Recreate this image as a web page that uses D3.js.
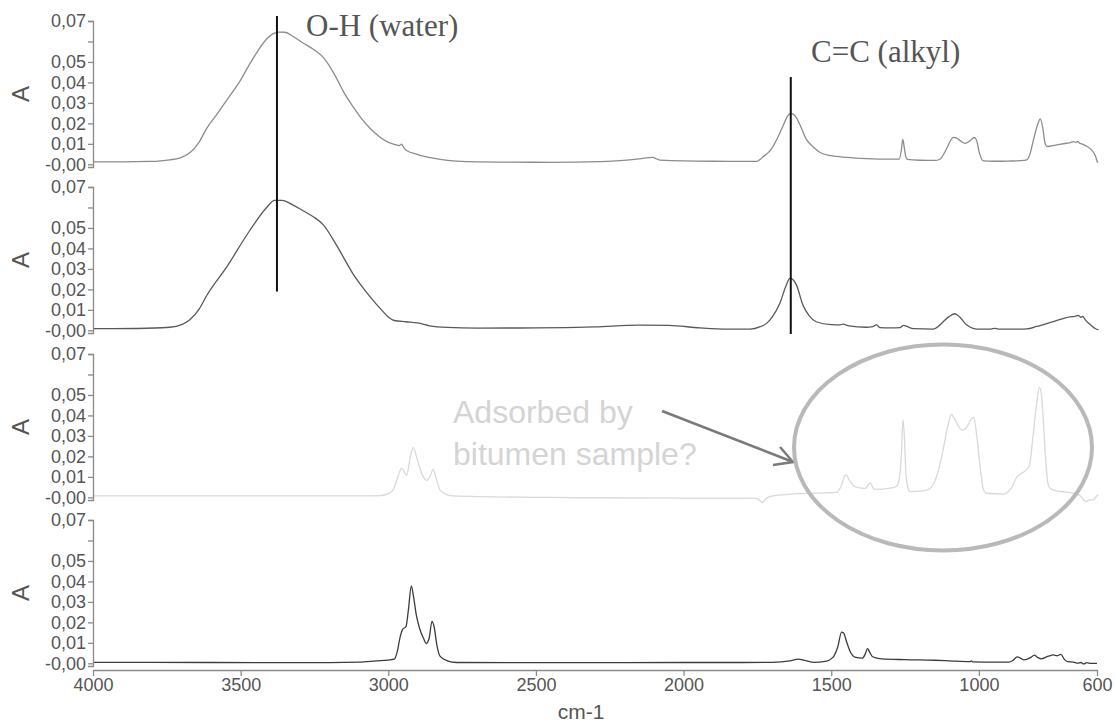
<!DOCTYPE html>
<html>
<head>
<meta charset="utf-8">
<script src="https://cdn.jsdelivr.net/npm/d3@7"></script>
<style>
  html, body { margin: 0; padding: 0; background: #ffffff; }
  svg { display: block; }
</style>
</head>
<body>
<svg id="chart" width="1117" height="722"></svg>
<script>
// ---------------- DATA ----------------
const xTickValues = [4000, 3500, 3000, 2500, 2000, 1500, 1000, 600];
const xTickLabels = ["4000", "3500", "3000", "2500", "2000", "1500", "1000", "600"];
const yTickValues = [0, 0.01, 0.02, 0.03, 0.04, 0.05, 0.06, 0.07];
const yTickLabels = ["-0,00", "0,01", "0,02", "0,03", "0,04", "0,05", "", "0,07"];
const xAxisTitle = "cm-1";
const yAxisTitle = "A";

// spectrum 1 (top, medium grey) [wavenumber, absorbance]
const spectrum1 = [[4000,0.0012],[3900,0.0012],[3807,0.0014],[3740,0.0022],[3705,0.0032],[3672,0.0056],[3640,0.011],[3615,0.0176],[3580,0.0245],[3547,0.0314],[3505,0.040],[3468,0.0493],[3440,0.0558],[3412,0.0612],[3390,0.0638],[3370,0.0646],[3350,0.0645],[3322,0.0624],[3290,0.0594],[3254,0.0562],[3220,0.0522],[3195,0.047],[3175,0.042],[3150,0.035],[3119,0.0281],[3090,0.0222],[3062,0.0176],[3030,0.0135],[3006,0.0112],[2980,0.0098],[2962,0.0092],[2955,0.0098],[2948,0.0082],[2938,0.0068],[2900,0.0048],[2848,0.003],[2800,0.0019],[2735,0.0013],[2600,0.0011],[2452,0.001],[2283,0.0013],[2150,0.0027],[2104,0.0034],[2090,0.0026],[2080,0.0021],[1900,0.0015],[1753,0.0014],[1740,0.0025],[1730,0.0038],[1710,0.0062],[1697,0.0088],[1680,0.0135],[1663,0.0188],[1648,0.0235],[1638,0.0249],[1628,0.0244],[1618,0.0228],[1605,0.019],[1584,0.0122],[1560,0.0083],[1538,0.0058],[1500,0.0042],[1448,0.0034],[1380,0.0028],[1300,0.0025],[1270,0.0025],[1262,0.0075],[1258,0.0122],[1254,0.0095],[1248,0.004],[1242,0.0024],[1200,0.002],[1150,0.0019],[1132,0.0025],[1110,0.0075],[1095,0.0118],[1087,0.0132],[1075,0.0128],[1060,0.0112],[1047,0.0102],[1030,0.0115],[1016,0.0131],[1008,0.0118],[998,0.0055],[985,0.0017],[950,0.0015],[900,0.0016],[860,0.0018],[838,0.0022],[826,0.0055],[816,0.0115],[802,0.019],[792,0.0222],[784,0.018],[775,0.0098],[768,0.0087],[740,0.0094],[703,0.0103],[690,0.0106],[680,0.0111],[672,0.0107],[666,0.0112],[660,0.0104],[650,0.0099],[635,0.0088],[620,0.0072],[605,0.004],[598,0.0008]];

// spectrum 2 (dark grey)
const spectrum2 = [[4000,0.0008],[3850,0.0009],[3740,0.0015],[3700,0.0028],[3672,0.0052],[3640,0.0105],[3615,0.017],[3547,0.031],[3468,0.049],[3412,0.060],[3385,0.0635],[3360,0.0635],[3330,0.0618],[3290,0.0585],[3254,0.0555],[3220,0.0515],[3175,0.0415],[3119,0.0275],[3062,0.0165],[3020,0.0095],[3000,0.0065],[2980,0.0048],[2940,0.0042],[2900,0.0036],[2860,0.0022],[2800,0.0014],[2700,0.0011],[2500,0.0012],[2300,0.0017],[2150,0.0025],[2050,0.0024],[1945,0.0012],[1850,0.0006],[1775,0.0006],[1740,0.0018],[1719,0.0034],[1700,0.0065],[1674,0.0132],[1655,0.021],[1640,0.0254],[1630,0.0248],[1618,0.0222],[1596,0.0124],[1575,0.0072],[1551,0.0042],[1500,0.0028],[1470,0.0027],[1460,0.003],[1440,0.0022],[1382,0.0015],[1360,0.0018],[1346,0.0027],[1335,0.0013],[1300,0.0012],[1267,0.0013],[1255,0.0024],[1245,0.002],[1222,0.0008],[1155,0.0006],[1135,0.0022],[1121,0.0042],[1100,0.0068],[1081,0.0081],[1065,0.0065],[1042,0.0027],[1020,0.001],[1008,0.0006],[960,0.0006],[946,0.001],[935,0.0006],[860,0.0006],[838,0.0007],[804,0.0019],[748,0.0043],[691,0.0066],[675,0.0068],[663,0.0073],[655,0.0064],[648,0.0068],[640,0.0052],[635,0.0044],[620,0.0025],[605,0.0008],[595,0.0002]];

// spectrum 3 (light grey)
const spectrum3 = [[4000,0.0007],[3500,0.0007],[3100,0.0007],[3028,0.0008],[2995,0.0022],[2983,0.0038],[2965,0.011],[2955,0.0142],[2945,0.012],[2938,0.0108],[2925,0.02],[2915,0.0244],[2905,0.02],[2898,0.0166],[2885,0.011],[2870,0.0083],[2858,0.0105],[2848,0.0137],[2838,0.0095],[2825,0.0036],[2800,0.0012],[2780,0.0007],[2500,0.0],[2351,-0.0002],[2000,-0.0004],[1775,-0.0004],[1753,-0.0005],[1740,-0.0018],[1733,-0.0026],[1725,-0.0012],[1714,0.0001],[1700,0.0006],[1606,0.0018],[1520,0.0022],[1482,0.0024],[1465,0.006],[1455,0.0105],[1450,0.011],[1440,0.0088],[1425,0.0058],[1414,0.005],[1385,0.0044],[1372,0.0065],[1367,0.0071],[1360,0.005],[1352,0.0039],[1300,0.0045],[1278,0.0055],[1268,0.0105],[1262,0.022],[1257,0.0378],[1252,0.029],[1247,0.011],[1240,0.0045],[1233,0.0028],[1190,0.0032],[1166,0.0042],[1145,0.0095],[1126,0.0198],[1105,0.035],[1093,0.0405],[1085,0.039],[1068,0.0345],[1055,0.0328],[1040,0.0345],[1025,0.0385],[1017,0.039],[1008,0.031],[997,0.0166],[985,0.004],[975,0.002],[918,0.0016],[890,0.0045],[873,0.0095],[855,0.0118],[838,0.0135],[828,0.016],[818,0.028],[805,0.045],[795,0.0537],[788,0.05],[780,0.033],[772,0.015],[765,0.006],[759,0.0044],[740,0.0033],[714,0.0027],[690,0.0022],[668,0.0016],[655,0.0005],[645,-0.0012],[635,-0.0021],[625,-0.0012],[613,-0.0013],[600,0.0008],[595,0.0011]];

// spectrum 4 (bottom, darkest)
const spectrum4 = [[4000,0.0005],[3600,0.0004],[3300,0.0003],[3100,0.0006],[3040,0.0012],[3000,0.0016],[2980,0.002],[2970,0.0055],[2960,0.0128],[2952,0.0165],[2940,0.018],[2932,0.026],[2922,0.0378],[2915,0.033],[2905,0.0235],[2895,0.0175],[2880,0.012],[2872,0.0097],[2862,0.012],[2852,0.0205],[2845,0.018],[2835,0.0085],[2825,0.0035],[2800,0.0012],[2769,0.0004],[2500,0.0003],[2200,0.0003],[2000,0.0004],[1800,0.0004],[1700,0.0005],[1640,0.0012],[1612,0.0021],[1590,0.0014],[1561,0.0005],[1520,0.001],[1495,0.0028],[1478,0.008],[1465,0.0152],[1458,0.0148],[1448,0.0105],[1435,0.0055],[1420,0.003],[1395,0.0025],[1385,0.0045],[1377,0.0072],[1370,0.0055],[1360,0.0032],[1330,0.0022],[1250,0.0018],[1150,0.0015],[1100,0.0012],[1030,0.0008],[1026,0.0012],[1020,0.0007],[950,0.0006],[900,0.0006],[885,0.0014],[870,0.0032],[858,0.0024],[848,0.0017],[825,0.0028],[812,0.004],[800,0.0028],[790,0.0022],[765,0.0035],[748,0.0041],[735,0.0037],[722,0.0044],[712,0.0022],[700,0.0008],[680,0.0006],[665,0.0001],[655,0.0004],[645,-0.0003],[635,0.0003],[620,0.0],[600,0.0]];

const spectra = [spectrum1, spectrum2, spectrum3, spectrum4];
const spectrumColors = ["#8c8c8c", "#595959", "#d9d9d9", "#3c3c3c"];

const bandLabels = ["O-H (water)", "C=C (alkyl)"];
const bandWavenumbers = [3377, 1637];
const noteLines = ["Adsorbed by", "bitumen sample?"];

// ---------------- LAYOUT ----------------
const svg = d3.select("#chart");
const xLeft = 93, xRight = 1097;
const panelTops = [21, 187, 354, 520];
const panelH = 146;

const x = d3.scaleLinear().domain([4000, 600]).range([xLeft, xRight]);
const yScales = panelTops.map(t => d3.scaleLinear().domain([-0.0013, 0.07]).range([t + panelH, t]));

const axisColor = "#8a8a8a";
const textColor = "#555555";
const sans = "'Liberation Sans', Arial, sans-serif";
const serif = "'Liberation Serif', 'Times New Roman', serif";

// spectra
spectra.forEach((s, i) => {
  const y = yScales[i];
  const line = d3.line().x(d => x(d[0])).y(d => y(d[1])).curve(d3.curveMonotoneX);
  svg.append("path")
    .datum(s.slice().sort((a, b) => a[0] - b[0]))
    .attr("d", line)
    .attr("fill", "none")
    .attr("stroke", spectrumColors[i])
    .attr("stroke-width", 1.3)
    .attr("stroke-linejoin", "round");
});

// y axes
yScales.forEach((y, i) => {
  const g = svg.append("g")
    .attr("transform", `translate(${xLeft},0)`)
    .call(d3.axisLeft(y).tickValues(yTickValues)
      .tickFormat((d, k) => yTickLabels[k])
      .tickSize(5).tickSizeOuter(5).tickPadding(2));
  g.selectAll("path,line").attr("stroke", axisColor).attr("stroke-width", 1.3);
  g.selectAll("text").attr("fill", textColor).style("font-family", sans).style("font-size", "18px");
  svg.append("text")
    .attr("transform", `translate(29,${panelTops[i] + panelH / 2}) rotate(-90)`)
    .attr("text-anchor", "middle")
    .attr("fill", textColor)
    .style("font-family", sans).style("font-size", "24px")
    .text(yAxisTitle);
});

// x axis
const xAxisY = panelTops[3] + panelH;
const gx = svg.append("g")
  .attr("transform", `translate(0,${xAxisY + 4})`)
  .call(d3.axisBottom(x).tickValues(xTickValues)
    .tickFormat((d, k) => xTickLabels[k]).tickSize(6).tickSizeOuter(0).tickPadding(2));
gx.selectAll("path,line").attr("stroke", axisColor).attr("stroke-width", 1.3);
gx.selectAll("text").attr("fill", textColor).style("font-family", sans).style("font-size", "18px");

svg.append("text")
  .attr("x", 581).attr("y", 719)
  .attr("text-anchor", "middle")
  .attr("fill", textColor)
  .style("font-family", sans).style("font-size", "21px")
  .text(xAxisTitle);

// band marker lines
svg.append("line")
  .attr("x1", x(bandWavenumbers[0])).attr("x2", x(bandWavenumbers[0]))
  .attr("y1", 16).attr("y2", yScales[1](0.019))
  .attr("stroke", "#111").attr("stroke-width", 2);
svg.append("line")
  .attr("x1", x(bandWavenumbers[1])).attr("x2", x(bandWavenumbers[1]))
  .attr("y1", 77).attr("y2", yScales[1](-0.0013) + 1)
  .attr("stroke", "#111").attr("stroke-width", 2);

svg.append("text")
  .attr("x", 306).attr("y", 36)
  .attr("fill", "#555")
  .style("font-family", serif).style("font-size", "31px")
  .text(bandLabels[0]);
svg.append("text")
  .attr("x", 811).attr("y", 62)
  .attr("fill", "#555")
  .style("font-family", serif).style("font-size", "31px")
  .text(bandLabels[1]);

// note text
noteLines.forEach((t, i) => {
  svg.append("text")
    .attr("x", 453).attr("y", 423 + i * 42)
    .attr("fill", "#d4d4d4")
    .style("font-family", sans).style("font-size", "32px")
    .text(t);
});

// arrow
const arrowStart = [662, 411], arrowTip = [793, 462];
svg.append("line")
  .attr("x1", arrowStart[0]).attr("y1", arrowStart[1])
  .attr("x2", arrowTip[0]).attr("y2", arrowTip[1])
  .attr("stroke", "#7a7a7a").attr("stroke-width", 2.5);
svg.append("polyline")
  .attr("points", `780,447 ${arrowTip[0]},${arrowTip[1]} 773,465`)
  .attr("fill", "none").attr("stroke", "#7a7a7a").attr("stroke-width", 2.5)
  .attr("stroke-linejoin", "miter");

// ellipse
svg.append("ellipse")
  .attr("cx", 943).attr("cy", 447.5).attr("rx", 149).attr("ry", 103)
  .attr("fill", "none").attr("stroke", "#b9b9b9").attr("stroke-width", 4);
</script>
</body>
</html>
